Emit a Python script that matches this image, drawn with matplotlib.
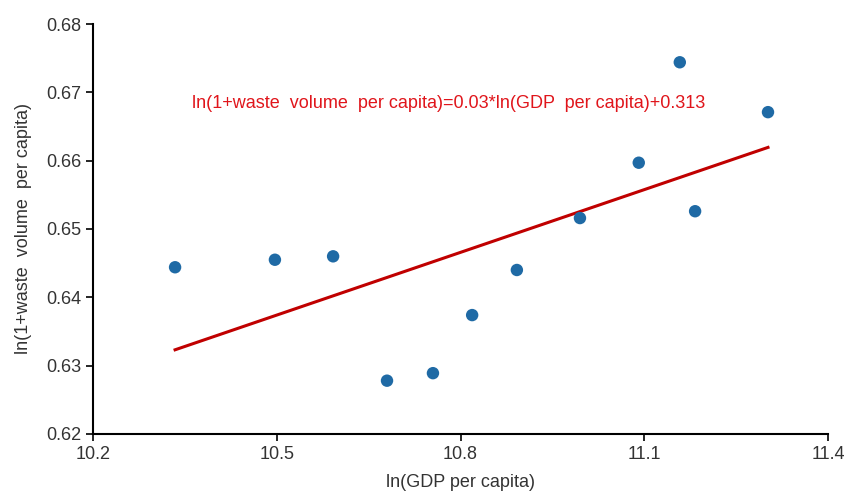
import numpy as np
import matplotlib
matplotlib.use('Agg')
import matplotlib.pyplot as plt

plt.rcParams['font.family'] = ['Liberation Sans', 'DejaVu Sans']

# ln(GDP per capita) and ln(1+waste volume per capita)
gdp = [10.334, 10.497, 10.592, 10.680, 10.755, 10.819, 10.892, 10.995, 11.091, 11.158, 11.183, 11.302]
waste = [0.6444, 0.6455, 0.6460, 0.6278, 0.6289, 0.6374, 0.6440, 0.6516, 0.6597, 0.6744, 0.6526, 0.6671]
# fitted line as drawn in the chart
fit_slope = 0.0306
fit_intercept = 0.3161
eq_label = 'ln(1+waste  volume  per capita)=0.03*ln(GDP  per capita)+0.313'

fig = plt.figure(figsize=(8.47, 4.94), dpi=100)
ax = fig.add_axes([0.1098, 0.1215, 0.8678, 0.8299])

ax.scatter(gdp, waste, s=80, color='#1f6aa5', zorder=3, edgecolors='none')
xs = np.array([min(gdp), max(gdp)])
ax.plot(xs, fit_slope * xs + fit_intercept, color='#c00000', linewidth=2.2, zorder=2)

ax.text(10.362, 0.6683, eq_label, color='#e0151b', fontsize=13, va='center')

ax.set_xlim(10.2, 11.4)
ax.set_ylim(0.62, 0.68)
ax.set_xticks([10.2, 10.5, 10.8, 11.1, 11.4])
ax.set_yticks([0.62, 0.63, 0.64, 0.65, 0.66, 0.67, 0.68])
ax.set_xticklabels(['10.2', '10.5', '10.8', '11.1', '11.4'])
ax.set_yticklabels(['0.62', '0.63', '0.64', '0.65', '0.66', '0.67', '0.68'])
ax.tick_params(direction='out', length=5, width=1.2, labelsize=13, colors='black', labelcolor='#333333')
for side in ['top', 'right']:
    ax.spines[side].set_visible(False)
for side in ['left', 'bottom']:
    ax.spines[side].set_linewidth(1.5)

ax.set_xlabel('ln(GDP per capita)', fontsize=13, color='#333333', labelpad=8)
ax.set_ylabel('ln(1+waste  volume  per capita)', fontsize=13, color='#333333', labelpad=10)

fig.savefig('out.png', dpi=100)
